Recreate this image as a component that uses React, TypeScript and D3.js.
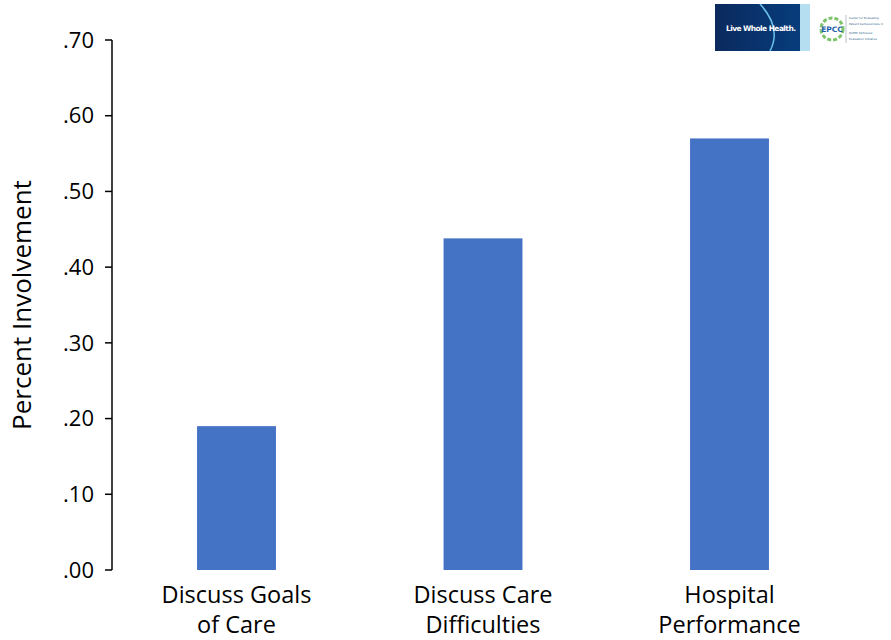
import React from "react";
import * as d3 from "d3";

const categories: string[][] = [
  ["Discuss Goals", "of Care"],
  ["Discuss Care", "Difficulties"],
  ["Hospital", "Performance"],
];
const values: number[] = [0.19, 0.438, 0.57];
const yTicks: number[] = [0, 0.1, 0.2, 0.3, 0.4, 0.5, 0.6, 0.7];
const yTitle = "Percent Involvement";

const W = 891;
const H = 640;
const FONT = "'Open Sans', 'Noto Sans', sans-serif";

export default function App() {
  const y = d3.scaleLinear().domain([0, 0.7]).range([570, 40]);
  const x = d3
    .scaleBand<number>()
    .domain(categories.map((_, i) => i))
    .range([113.25, 852.75])
    .paddingInner(0.68)
    .paddingOuter(0.34);
  const fmt = (v: number) => d3.format(".2f")(v).replace(/^0/, "");
  const axisX = 112;

  return (
    <svg
      width={W}
      height={H}
      style={{ position: "absolute", left: 0, top: 0, background: "#fff" }}
      fontFamily={FONT}
    >
      <rect x={0} y={0} width={W} height={H} fill="#fff" />
      {/* bars */}
      {values.map((v, i) => (
        <rect
          key={i}
          x={x(i)!}
          y={y(v)}
          width={x.bandwidth()}
          height={y(0) - y(v)}
          fill="#4472C4"
        />
      ))}
      {/* y axis */}
      <line x1={axisX} x2={axisX} y1={y(0.7)} y2={y(0)} stroke="#000" strokeWidth={1.5} />
      {yTicks.map((t) => (
        <g key={t}>
          <line x1={axisX - 7} x2={axisX} y1={y(t)} y2={y(t)} stroke="#000" strokeWidth={1.5} />
          <text
            x={94}
            y={y(t)}
            dy="0.35em"
            textAnchor="end"
            fontSize={22}
            fill="#000"
          >
            {fmt(t)}
          </text>
        </g>
      ))}
      <text
        transform={`translate(31, ${y(0.35)}) rotate(-90)`}
        textAnchor="middle"
        fontSize={26}
        fill="#000"
      >
        {yTitle}
      </text>
      {/* x labels */}
      {categories.map((lines, i) => (
        <text
          key={i}
          x={x(i)! + x.bandwidth() / 2}
          y={603}
          textAnchor="middle"
          fontSize={23.5}
          fill="#000"
        >
          {lines.map((l, j) => (
            <tspan key={j} x={x(i)! + x.bandwidth() / 2} dy={j === 0 ? 0 : 30}>
              {l}
            </tspan>
          ))}
        </text>
      ))}
      {/* logos */}
      <defs>
        <linearGradient id="lwh" x1="0" x2="1" y1="0" y2="0">
          <stop offset="0" stopColor="#0b2a5e" />
          <stop offset="1" stopColor="#063f80" />
        </linearGradient>
        <clipPath id="lwhclip">
          <rect x={715} y={4} width={95} height={47} />
        </clipPath>
      </defs>
      <rect x={715} y={4} width={95} height={47} fill="url(#lwh)" />
      <g clipPath="url(#lwhclip)">
        <rect x={800} y={4} width={10} height={47} fill="#b5dff0" />
        <path d="M 760 4 Q 782 28 770 51" fill="none" stroke="#6cc4ea" strokeWidth={1.5} />
      </g>
      <text x={726} y={31} fontSize={7.5} fontWeight="bold" fill="#fff" fontFamily="'DejaVu Sans', sans-serif" textLength={70}>
        Live Whole Health.
      </text>
      <circle cx={832} cy={29} r={11} fill="none" stroke="#7cc36a" strokeWidth={3} strokeDasharray="4 2" />
      <text x={832} y={32} textAnchor="middle" fontSize={7.5} fontWeight="bold" fill="#1f5fa8" fontFamily="'DejaVu Sans', sans-serif">
        EPCC
      </text>
      <line x1={846} x2={846} y1={15} y2={43} stroke="#9ab" strokeWidth={0.7} />
      {["Center for Evaluating", "Patient Centered Care in", "QUERI Partnered", "Evaluation Initiative"].map((s, i) => (
        <text
          key={i}
          x={849}
          y={19 + i * 6 + (i >= 2 ? 3 : 0)}
          fontSize={2.8}
          fill="#2a5b8a"
          fontFamily="'DejaVu Sans', sans-serif"
        >
          {s}
        </text>
      ))}
    </svg>
  );
}
